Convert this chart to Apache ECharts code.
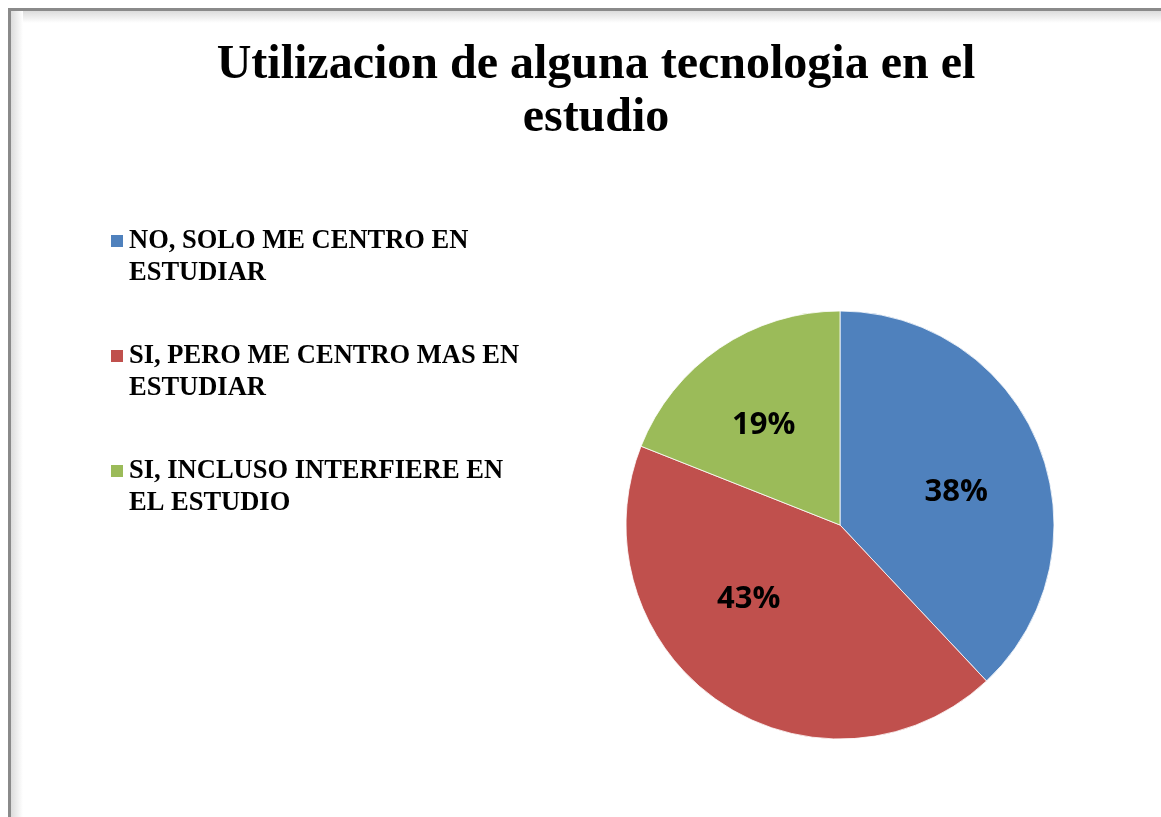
<!DOCTYPE html>
<html>
<head>
    <meta charset="utf-8">
    <title>Utilizacion de alguna tecnologia</title>
    <script src="https://cdn.jsdelivr.net/npm/echarts@6/dist/echarts.min.js"></script>
    <style>
        html, body { margin: 0; padding: 0; background: #fff; }
        #chart { width: 1161px; height: 817px; }
    </style>
</head>
<body>
    <div id="chart"></div>
    <script type="text/javascript">
        // datos
        var titulo = 'Utilizacion de alguna tecnologia en el\nestudio';
        var categorias = [
            'NO, SOLO ME CENTRO EN\nESTUDIAR',
            'SI, PERO ME CENTRO MAS EN\nESTUDIAR',
            'SI, INCLUSO INTERFIERE EN\nEL ESTUDIO'
        ];
        var valores = [38, 43, 19];
        var colores = ['#4F81BD', '#C0504D', '#9BBB59'];
        // pequeños ajustes de las etiquetas, como en el original
        var desplazamientos = [[0, 13], [-21, -29], [-6, 4]];

        var datos = [], datosEtiquetas = [];
        for (var i = 0; i < categorias.length; i++) {
            datos.push({ name: categorias[i], value: valores[i] });
            datosEtiquetas.push({ name: categorias[i], value: valores[i], label: { offset: desplazamientos[i] } });
        }

        var myChart = echarts.init(document.getElementById('chart'));
        var option = {
            backgroundColor: '#fff',
            animation: false,
            color: colores,
            title: {
                text: titulo,
                left: 591,
                textAlign: 'center',
                top: 34,
                textStyle: {
                    fontFamily: 'Liberation Serif',
                    fontWeight: 'bold',
                    fontSize: 48,
                    lineHeight: 53,
                    color: '#000'
                }
            },
            legend: {
                orient: 'vertical',
                left: 109,
                top: 193,
                padding: 0,
                itemWidth: 14,
                itemHeight: 14,
                itemGap: 19,
                icon: 'rect',
                selectedMode: false,
                data: categorias,
                // linea vacia delante para que el cuadro quede junto a la primera linea
                formatter: function (n) { return '\n' + n; },
                textStyle: {
                    fontFamily: 'Liberation Serif',
                    fontWeight: 'bold',
                    fontSize: 26.5,
                    lineHeight: 32,
                    color: '#000'
                }
            },
            graphic: [
                { type: 'rect', shape: { x: 11, y: 11, width: 1200, height: 12 }, silent: true, z: 1,
                  style: { fill: new echarts.graphic.LinearGradient(0, 0, 0, 1, [{ offset: 0, color: '#dcdcdc' }, { offset: 1, color: '#ffffff' }]) } },
                { type: 'rect', shape: { x: 11, y: 11, width: 12, height: 900 }, silent: true, z: 1,
                  style: { fill: new echarts.graphic.LinearGradient(0, 0, 1, 0, [{ offset: 0, color: '#dcdcdc' }, { offset: 1, color: '#ffffff' }]) } },
                { type: 'rect', shape: { x: 9.5, y: 9.5, width: 1300, height: 1000 }, silent: true, z: 2,
                  style: { fill: 'none', stroke: '#8a8a8a', lineWidth: 3 } }
            ],
            series: [
                {
                    type: 'pie',
                    center: [840, 525],
                    radius: 214,
                    startAngle: 90,
                    clockwise: true,
                    silent: true,
                    label: { show: false },
                    labelLine: { show: false },
                    itemStyle: { borderColor: '#fff', borderWidth: 0.8 },
                    data: datos
                },
                {
                    // serie solo para colocar las etiquetas de porcentaje
                    type: 'pie',
                    center: [840, 525],
                    radius: 244,
                    startAngle: 90,
                    clockwise: true,
                    silent: true,
                    itemStyle: { color: 'rgba(0,0,0,0)' },
                    labelLine: { show: false },
                    label: {
                        show: true,
                        position: 'inside',
                        formatter: '{d}%',
                        fontFamily: 'Open Sans',
                        fontWeight: 'bold',
                        fontSize: 31,
                        color: '#000'
                    },
                    data: datosEtiquetas
                }
            ]
        };
        myChart.setOption(option);
    </script>
</body>
</html>
